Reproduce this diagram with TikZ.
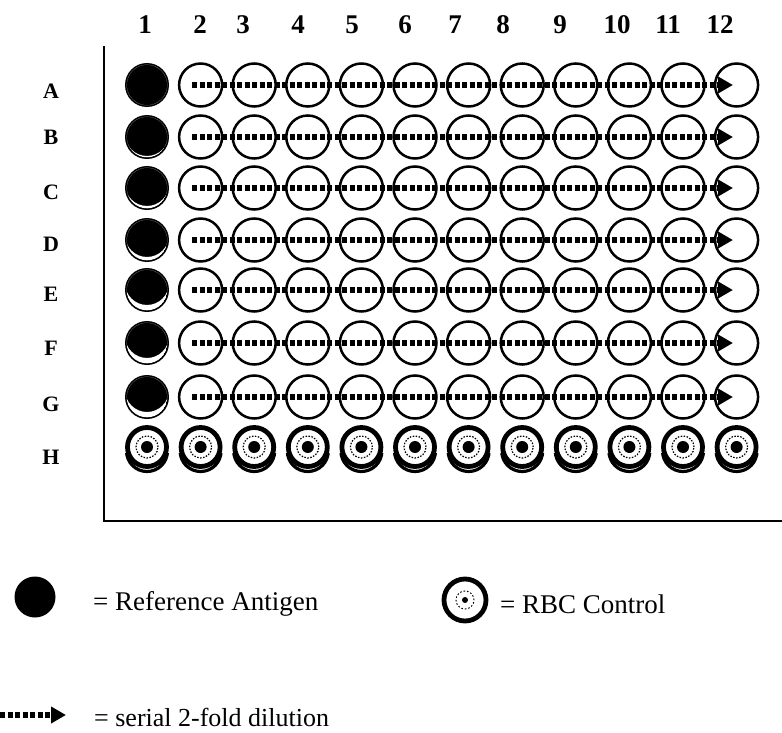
\documentclass[tikz,border=0pt]{standalone}
\usepackage{fontspec}
\setmainfont{Liberation Serif}
\usetikzlibrary{arrows.meta,shapes.geometric}
\tikzset{
  collabel/.style={font=\fontsize{27}{30}\selectfont\bfseries, inner sep=0pt},
  rowlabel/.style={font=\fontsize{22}{26}\selectfont\bfseries, inner sep=0pt},
  openwell/.style={circle, draw=black, line width=2.5pt, minimum size=43pt, inner sep=0pt},
  refwell/.style={circle, fill=black, minimum size=44pt, inner sep=0pt},
  rbcwell/.style={circle, draw=black, line width=4.8pt, minimum size=39pt, inner sep=0pt},
  legendtext/.style={font=\fontsize{27}{31}\selectfont, anchor=west, inner sep=0pt},
  dilution/.style={line width=6pt, dash pattern=on 5pt off 2.5pt, -{Triangle[length=15pt,width=16pt]}},
  plateframe/.style={line width=2pt, line cap=rect},
}
\begin{document}
\begin{tikzpicture}[x=1pt,y=-1pt]
\useasboundingbox (0,0) rectangle (782,733);
% plate frame
\coordinate (ftop) at (104,47);
\coordinate (fcorner) at (104,521);
\coordinate (fright) at (782,521);
\draw[plateframe] (ftop) -- (fcorner) -- (fright);
% column labels
\foreach \c/\lx in {1/145,2/200,3/243,4/298,5/352,6/405,7/455,8/503,9/560,10/617,11/668,12/720}
  \node[collabel] (col\c) at (\lx,25) {\c};
% row labels
\foreach \r/\ly in {A/91,B/137,C/192,D/244,E/294,F/348,G/404,H/457}
  \node[rowlabel] (row\r) at (51,\ly) {\r};
% reference antigen wells (column 1) and test wells
\foreach \r/\y/\d in {A/85/0,B/137/3,C/188/4,D/240/5,E/290/7,F/343/7,G/397/7}{
  \node[refwell] (w\r1) at (147,\y) {};
  \begin{scope}
    \clip (147,\y) circle (20.3pt);
    \fill[white, even odd rule] (147,\y) circle (20.3pt) (147,\y-\d) circle (22pt);
  \end{scope}
  \foreach \c in {2,...,12}{
    \pgfmathsetmacro\cx{147+53.6*(\c-1)}
    \node[openwell] (w\r\c) at (\cx,\y) {};
  }
  \coordinate (s\r) at (192,\y);
  \coordinate (e\r) at (733,\y);
  \draw[dilution] (s\r) -- (e\r);
}
% RBC control wells (row H)
\foreach \c in {1,...,12}{
  \pgfmathsetmacro\cx{147+53.6*(\c-1)}
  \begin{scope}
    \clip (\cx-27,447+6) rectangle (\cx+27,447+30);
    \draw[line width=3.2pt] (\cx,447+4) circle (20.5pt);
  \end{scope}
  \node[rbcwell] (wH\c) at (\cx,447) {};
  \draw[line width=1.2pt, dash pattern=on 1.5pt off 1.5pt] (\cx,447) circle (11pt);
  \fill (\cx,447) circle (6pt);
}
% legend
\node[circle, fill=black, minimum size=41pt, inner sep=0pt] (legref) at (35,597) {};
\node[legendtext] (legreftext) at (93,604) {= Reference Antigen};
\node[rbcwell, minimum size=42pt] (legrbc) at (465,600) {};
\draw[line width=1pt, dash pattern=on 1.5pt off 2pt] (legrbc.center) circle (9pt);
\fill (legrbc.center) circle (3pt);
\node[legendtext] (legrbctext) at (500,604) {= RBC Control};
\coordinate (legarrs) at (0,715);
\coordinate (legarre) at (66,715);
\draw[dilution] (legarrs) -- (legarre);
\node[legendtext, font=\fontsize{26}{30}\selectfont] (legarrtext) at (94,717) {= serial 2-fold dilution};
\end{tikzpicture}
\end{document}
